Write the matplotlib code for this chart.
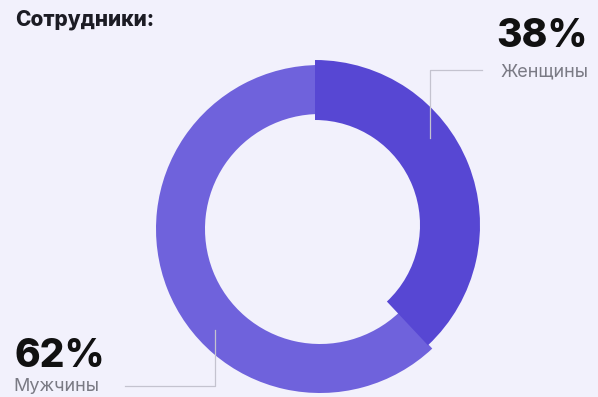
import matplotlib.pyplot as plt

# employee split
labels = ['Женщины', 'Мужчины']
shares = [38, 62]
title = 'Сотрудники:'

BG = '#f2f1fc'
WOMEN_COLOR = '#5747d3'
MEN_COLOR = '#6f62dc'
LINE_COLOR = '#c4c3cf'
FONT = ['Inter', 'DejaVu Sans']

W, H = 598, 397
fig = plt.figure(figsize=(W / 100, H / 100), dpi=100, facecolor=BG)
ax = fig.add_axes([0, 0, 1, 1])
ax.set_facecolor(BG)

# men ring (women slice left transparent)
ax.pie(shares, startangle=90, counterclock=False, radius=164,
       center=(320, H - 229), colors=['none', MEN_COLOR], frame=True,
       wedgeprops=dict(width=49, linewidth=0))
# women ring is slightly thicker and offset
ax.pie(shares, startangle=90, counterclock=False, radius=165,
       center=(315, H - 225), colors=[WOMEN_COLOR, 'none'], frame=True,
       wedgeprops=dict(width=60, linewidth=0))

ax.set_xlim(0, W)
ax.set_ylim(0, H)
ax.set_aspect('equal')
ax.axis('off')

# leader lines
ax.plot([482, 430, 430], [H - 70, H - 70, H - 138], color=LINE_COLOR, lw=0.9, zorder=5)
ax.plot([125, 215, 215], [H - 386, H - 386, H - 330], color=LINE_COLOR, lw=0.9, zorder=5)

ax.text(15, H - 25, title, ha='left', va='baseline', fontsize=15,
        fontweight='heavy', color='#1c1c24', family=FONT)

ax.text(588, H - 47, f'{shares[0]}%', ha='right', va='baseline', fontsize=28,
        fontweight='heavy', color='#111111', family=FONT)
ax.text(588, H - 76, labels[0], ha='right', va='baseline', fontsize=13,
        color='#7a7a84', family=FONT)

ax.text(14, H - 367, f'{shares[1]}%', ha='left', va='baseline', fontsize=28,
        fontweight='heavy', color='#111111', family=FONT)
ax.text(13, H - 391, labels[1], ha='left', va='baseline', fontsize=13,
        color='#7a7a84', family=FONT)

fig.savefig('out.png', dpi=100, facecolor=BG)
